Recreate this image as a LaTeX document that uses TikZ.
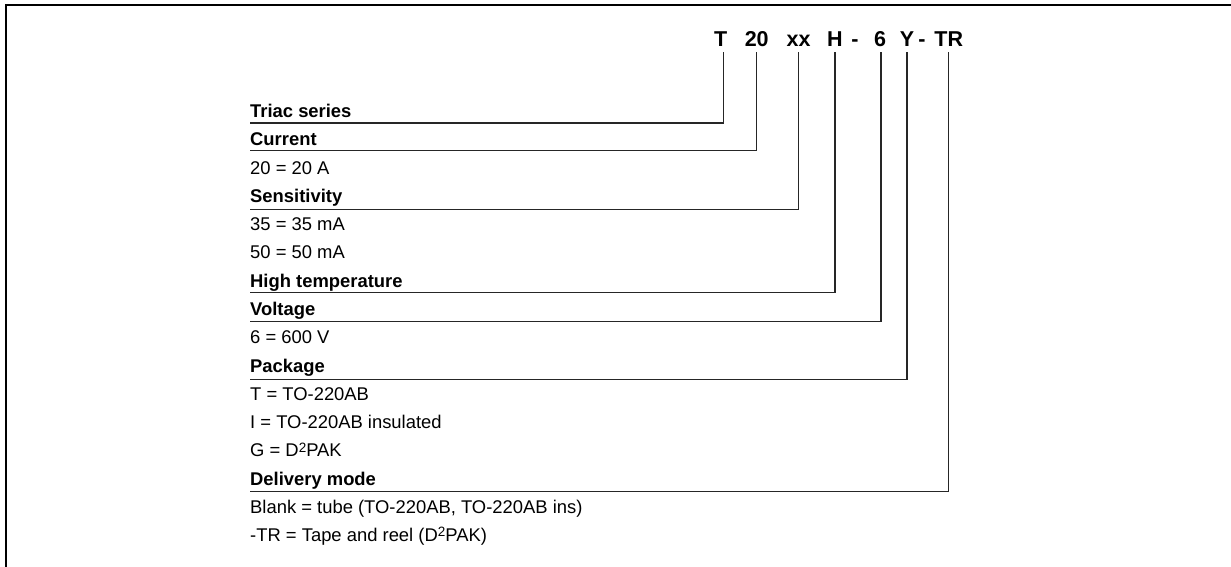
\documentclass[tikz,border=0pt]{standalone}
\usepackage{fontspec}
\setmainfont{Liberation Sans}
\newcommand{\sqr}{\raisebox{0.5ex}{\fontsize{13.5}{14}\selectfont 2}}

\begin{document}
\begin{tikzpicture}[x=1pt, y=-1pt,
  code/.style={font=\fontsize{21.5}{24}\selectfont\bfseries, inner sep=0pt, anchor=base},
  head/.style={font=\fontsize{18.4}{20}\selectfont\bfseries, inner sep=0pt, anchor=base west},
  item/.style={font=\fontsize{18.4}{20}\selectfont, inner sep=0pt, anchor=base west},
  lead/.style={draw=black!85, line width=1.1pt}]
\useasboundingbox (0,0) rectangle (1231,566);
\draw[line width=2.6pt] (6,570) -- (6,5) -- (1235,5);

% part number
\node[code] (t)     at (720.7,46.7) {T};
\node[code] (cur)   at (756.7,46.7) {20};
\node[code] (sens)  at (798.5,46.7) {xx};
\node[code] (ht)    at (835,46.7)   {H};
\node[code] (dash)  at (855,46.7)   {-};
\node[code] (volt)  at (880,46.7)   {6};
\node[code] (pkg)   at (907,46.7)   {Y};
\node[code] (dashb) at (922,46.7)   {-};
\node[code] (del)   at (948.7,46.7) {TR};

% fields
\node[head] (triac)   at (250,117.5) {Triac series};
\node[head] (current) at (250,145.8) {Current};
\node[item] (curA)    at (250,174.1) {20 = 20 A};
\node[head] (sensit)  at (250,202.3) {Sensitivity};
\node[item] (sensA)   at (250,230.6) {35 = 35 mA};
\node[item] (sensB)   at (250,258.9) {50 = 50 mA};
\node[head] (hightemp) at (250,287.2) {High temperature};
\node[head] (voltage) at (250,315.5) {Voltage};
\node[item] (voltA)   at (250,343.7) {6 = 600 V};
\node[head] (package) at (250,372.5) {Package};
\node[item] (pkgA)    at (250,400.3) {T = TO-220AB};
\node[item] (pkgB)    at (250,428.6) {I = TO-220AB insulated};
\node[item] (pkgC)    at (250,456.9) {G = D\sqr PAK};
\node[head] (delivery) at (250,485.1) {Delivery mode};
\node[item] (delA)    at (250,513.4) {Blank = tube (TO-220AB, TO-220AB ins)};
\node[item] (delB)    at (250,541.7) {-TR = Tape and reel (D\sqr PAK)};

% leaders
\draw[lead] ([xshift=3pt,yshift=-5.5pt]t.base) |- ([yshift=-5.5pt]triac.base west);
\draw[lead] ([yshift=-5.5pt]cur.base)  |- ([yshift=-5pt]current.base west);
\draw[lead] ([yshift=-5.5pt]sens.base) |- ([yshift=-7pt]sensit.base west);
\draw[lead] ([yshift=-5.5pt]ht.base)   |- ([yshift=-5pt]hightemp.base west);
\draw[lead] ([xshift=1pt,yshift=-5.5pt]volt.base) |- ([yshift=-6pt]voltage.base west);
\draw[lead] ([yshift=-5.5pt]pkg.base)  |- ([yshift=-7pt]package.base west);
\draw[lead] ([yshift=-5.5pt]del.base)  |- ([yshift=-6pt]delivery.base west);
\end{tikzpicture}
\end{document}
